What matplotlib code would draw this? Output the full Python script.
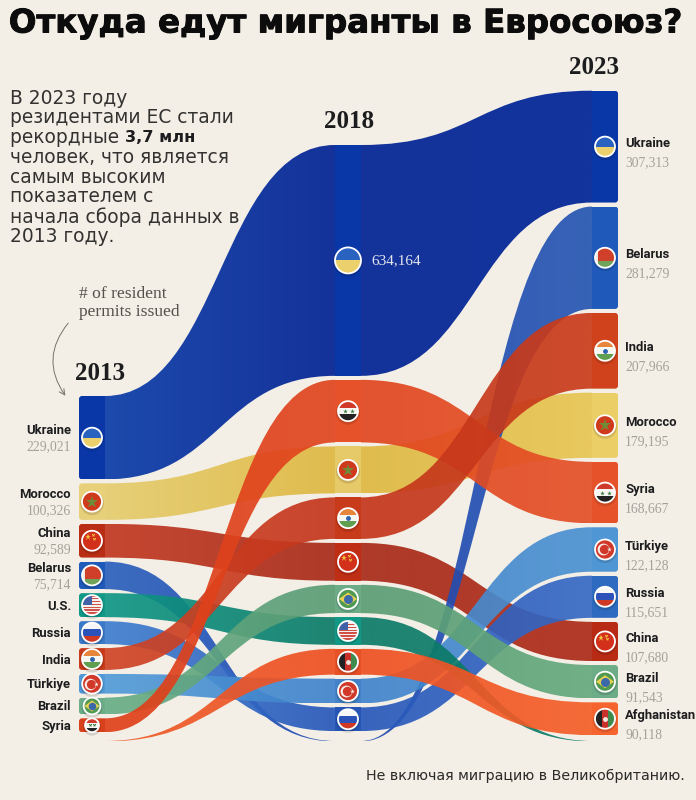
import numpy as np
import matplotlib
matplotlib.use('Agg')
import matplotlib.pyplot as plt
from matplotlib.colors import to_rgb
from matplotlib.patches import Circle, FancyBboxPatch, PathPatch, Polygon, Rectangle
from matplotlib.path import Path
import matplotlib.patheffects as pe

# values, 2018 and the unlabelled 2013 ones are estimates
countries_2013 = ['Ukraine', 'Morocco', 'China', 'Belarus', 'U.S.', 'Russia', 'India', 'Türkiye', 'Brazil', 'Syria', 'Afghanistan']
values_2013 = [229021, 100326, 92589, 75714, 66000, 63000, 60000, 54000, 46000, 38000, 1200]
countries_2018 = ['Ukraine', 'Syria', 'Morocco', 'India', 'China', 'Brazil', 'U.S.', 'Afghanistan', 'Türkiye', 'Russia', 'Belarus']
values_2018 = [634164, 172000, 129000, 114000, 104000, 78000, 76000, 71000, 68000, 65000, 1200]
countries_2023 = ['Ukraine', 'Belarus', 'India', 'Morocco', 'Syria', 'Türkiye', 'Russia', 'China', 'Brazil', 'Afghanistan', 'U.S.']
values_2023 = [307313, 281279, 207966, 179195, 168667, 122128, 115651, 107680, 91543, 90118, 1200]

# band colours at 2013, 2018, 2023
band_colors = {
    'Ukraine': ['#1d4aac', '#14329a', '#12349c'],
    'Morocco': ['#e6cf78', '#e0bc4e', '#e8c95f'],
    'China': ['#c23820', '#a82a18', '#ae2a18'],
    'Belarus': ['#2a60bc', '#2049b2', '#2656b2'],
    'U.S.': ['#0f9686', '#0c7b68', '#0c7b68'],
    'Russia': ['#3f7ecf', '#2858ba', '#3669c4'],
    'India': ['#d04526', '#c4361c', '#ca3c1a'],
    'Türkiye': ['#529bd8', '#4083cc', '#4b91d2'],
    'Brazil': ['#68ae86', '#5a9c74', '#65aa7e'],
    'Syria': ['#df4019', '#e1451f', '#e45026'],
    'Afghanistan': ['#ee5c2a', '#ee5022', '#f55f28'],
}
# column colours at 2013, 2018, 2023
col_colors = {
    'Ukraine': ['#0a37a8', '#0a37a8', '#0a37a8'],
    'Morocco': ['#e8d07a', '#e6c968', '#ecce66'],
    'China': ['#b92d14', '#bf2d14', '#b82a14'],
    'Belarus': ['#1f5abb', '#1f5abb', '#1f5abb'],
    'U.S.': ['#119988', '#119988', '#119988'],
    'Russia': ['#3a78c8', '#2555b5', '#2e6bc0'],
    'India': ['#c73a1a', '#c73a1a', '#d0421c'],
    'Türkiye': ['#5098d6', '#4382c8', '#4f96d4'],
    'Brazil': ['#6cad88', '#6cad88', '#6cad88'],
    'Syria': ['#d8401c', '#e6522a', '#e6522a'],
    'Afghanistan': ['#ef6030', '#e85026', '#f5632e'],
}

# drawing order of the bands, bottom first
order_left = ['Ukraine', 'Morocco', 'Belarus', 'Russia', 'Türkiye', 'China', 'U.S.', 'India', 'Brazil', 'Afghanistan', 'Syria']
order_right = ['Morocco', 'Ukraine', 'China', 'Belarus', 'Türkiye', 'Russia', 'U.S.', 'Syria', 'India', 'Brazil', 'Afghanistan']
opaque = ['Ukraine', 'Morocco']

title = 'Откуда едут мигранты в Евросоюз?'
intro_lines = ['В 2023 году', 'резидентами ЕС стали', 'рекордные ', 'человек, что является', 'самым высоким',
               'показателем с', 'начала сбора данных в', '2013 году.']
footer = 'Не включая миграцию в Великобританию.'

BG = '#f3efe6'
SCALE = 0.364 / 1000
GAP = 4
SLIVER_Y = 741
COL_W = 26
COL_X = [79, 335, 592]
TOPS = [396, 145, 90.7]

NARROW = ['Roboto', 'DejaVu Sans']
SERIF = ['Liberation Serif', 'DejaVu Serif']

plt.rcParams['font.family'] = ['DejaVu Sans']
fig = plt.figure(figsize=(6.96, 8), dpi=100, facecolor=BG)
ax = fig.add_axes([0, 0, 1, 1])


def layout(names, values, top):
    pos = {}
    y = top
    for n, v in zip(names, values):
        h = v * SCALE
        if v < 5000:
            pos[n] = (SLIVER_Y, SLIVER_Y + h)
        else:
            pos[n] = (y, y + h)
            y += h + GAP
    return pos


def band(x0, x1, a, b, c0, c1, alpha, z):
    xm = (x0 + x1) / 2
    verts = [(x0, a[0]), (xm, a[0]), (xm, b[0]), (x1, b[0]),
             (x1, b[1]), (xm, b[1]), (xm, a[1]), (x0, a[1]), (x0, a[0])]
    codes = [Path.MOVETO, Path.CURVE4, Path.CURVE4, Path.CURVE4, Path.LINETO,
             Path.CURVE4, Path.CURVE4, Path.CURVE4, Path.CLOSEPOLY]
    patch = PathPatch(Path(verts, codes), fc='none', ec='none', transform=ax.transData)
    ax.add_patch(patch)
    ramp = np.linspace(0, 1, 64)[:, None]
    rgb = (1 - ramp) * np.array(to_rgb(c0)) + ramp * np.array(to_rgb(c1))
    img = np.dstack([rgb[None, :, :], np.full((1, 64, 1), alpha)])
    ys = [a[0], a[1], b[0], b[1]]
    im = ax.imshow(img, extent=(x0, x1, max(ys), min(ys)), aspect='auto', zorder=z, interpolation='bilinear')
    im.set_clip_path(patch)


def flag(cx, cy, r, name):
    z = 30
    ax.add_patch(Circle((cx, cy + 1.5), r + 2, fc='black', alpha=0.12, ec='none', zorder=z - 1))
    clip = Circle((cx, cy), r, transform=ax.transData)

    def box(x0, y0, x1, y1, c):
        p = Rectangle((cx + x0 * r, cy + y0 * r), (x1 - x0) * r, (y1 - y0) * r, fc=c, ec='none', zorder=z)
        ax.add_patch(p)
        p.set_clip_path(clip)
        return p

    def mark(x, y, m, s, c):
        ln, = ax.plot([cx + x * r], [cy + y * r], m, ms=s, color=c, mew=0, zorder=z + 1)
        ln.set_clip_path(clip)

    if name == 'Ukraine':
        box(-1, -1, 1, 0, '#2a62bf')
        box(-1, 0, 1, 1, '#ecd06c')
    elif name == 'Morocco':
        box(-1, -1, 1, 1, '#cf3a1c')
        mark(0, 0, '*', r * 0.95, '#6e8c3a')
    elif name == 'China':
        box(-1, -1, 1, 1, '#d2301a')
        mark(-0.4, -0.35, '*', r * 0.5, '#f0c040')
        mark(0.05, -0.55, '*', r * 0.25, '#f0c040')
        mark(0.2, -0.2, '*', r * 0.25, '#f0c040')
    elif name == 'Belarus':
        box(-1, -1, 1, 0.35, '#cf3f2a')
        box(-1, 0.35, 1, 1, '#6fa35a')
        box(-1, -1, -0.7, 1, '#f0e8e0')
    elif name == 'U.S.':
        for i in range(7):
            box(-1, -1 + i * 2 / 7, 1, -1 + (i + 0.5) * 2 / 7, '#d05048')
        for i in range(7):
            box(-1, -1 + (i + 0.5) * 2 / 7, 1, -1 + (i + 1) * 2 / 7, '#f4f0ee')
        box(-1, -1, -0.05, -0.05, '#4060a8')
    elif name == 'Russia':
        box(-1, -1, 1, -0.33, '#f6f6f6')
        box(-1, -0.33, 1, 0.33, '#2a52b8')
        box(-1, 0.33, 1, 1, '#d03a24')
    elif name == 'India':
        box(-1, -1, 1, -0.33, '#e8853c')
        box(-1, -0.33, 1, 0.33, '#f6f6f2')
        box(-1, 0.33, 1, 1, '#5f9f4f')
        mark(0, 0, 'o', r * 0.35, '#2f62b0')
    elif name == 'Türkiye':
        box(-1, -1, 1, 1, '#d2382a')
        mark(-0.25, 0, 'o', r * 0.85, '#f6efe8')
        mark(-0.1, 0, 'o', r * 0.68, '#d2382a')
        mark(0.4, 0, '*', r * 0.35, '#f6efe8')
    elif name == 'Brazil':
        box(-1, -1, 1, 1, '#4f9a50')
        p = Polygon([(cx - 0.9 * r, cy), (cx, cy - 0.65 * r), (cx + 0.9 * r, cy), (cx, cy + 0.65 * r)],
                    fc='#e8d050', ec='none', zorder=z + 0.5)
        ax.add_patch(p)
        mark(0, 0, 'o', r * 0.65, '#3a68a8')
    elif name == 'Syria':
        box(-1, -1, 1, -0.33, '#d03a2a')
        box(-1, -0.33, 1, 0.33, '#f6f6f2')
        box(-1, 0.33, 1, 1, '#222222')
        mark(-0.35, 0, '*', r * 0.35, '#3a7a40')
        mark(0.35, 0, '*', r * 0.35, '#3a7a40')
    elif name == 'Afghanistan':
        box(-1, -1, -0.33, 1, '#222222')
        box(-0.33, -1, 0.33, 1, '#c8322a')
        box(0.33, -1, 1, 1, '#3f8a4c')
        mark(0, 0, 'o', r * 0.35, '#f0e8e0')
    ax.add_patch(Circle((cx, cy), r, fc='none', ec='white', lw=1.3, zorder=z + 2))


pos = [layout(countries_2013, values_2013, TOPS[0]),
       layout(countries_2018, values_2018, TOPS[1]),
       layout(countries_2023, values_2023, TOPS[2])]

# bands
for seg, order in enumerate([order_left, order_right]):
    for i, n in enumerate(order):
        alpha = 1 if n in opaque else 0.92
        band(COL_X[seg] + COL_W, COL_X[seg + 1], pos[seg][n], pos[seg + 1][n],
             band_colors[n][seg], band_colors[n][seg + 1], alpha, 5 + i * 0.5)

# year columns and flags
for k, p in enumerate(pos):
    for n, (y0, y1) in p.items():
        if y1 - y0 < 5:
            continue
        rect = Rectangle((COL_X[k], y0), COL_W, y1 - y0, fc=col_colors[n][k], ec='none', zorder=20)
        ax.add_patch(rect)
        if k != 1:
            off = 0 if k == 0 else -10
            rounded = FancyBboxPatch((COL_X[k] + off, y0), COL_W + 10, y1 - y0,
                                     boxstyle='round,pad=0,rounding_size=3', transform=ax.transData)
            rect.set_clip_path(rounded)
        r = 13 if y1 - y0 > 200 and k == 1 else min(10, (y1 - y0) / 2)
        flag(COL_X[k] + COL_W / 2, (y0 + y1) / 2, r, n)

ax.set_xlim(0, 696)
ax.set_ylim(800, 0)
ax.axis('off')

# labels
show_value_2013 = ['Ukraine', 'Morocco', 'China', 'Belarus']
for n, v in zip(countries_2013[:-1], values_2013):
    mid = sum(pos[0][n]) / 2
    if n in show_value_2013:
        ax.text(71, mid - 7, n, ha='right', va='center', family=NARROW, weight='bold', fontsize=9.4, color='#1d1d1f')
        ax.text(71, mid + 9, f'{v:,}', ha='right', va='center', family=SERIF, fontsize=9.8, color='#a5a19a')
    else:
        ax.text(71, mid + 1, n, ha='right', va='center', family=NARROW, weight='bold', fontsize=9.4, color='#1d1d1f')
for n, v in zip(countries_2023[:-1], values_2023):
    mid = sum(pos[2][n]) / 2
    ax.text(625, mid - 3, n, ha='left', va='center', family=NARROW, weight='bold', fontsize=9.4, color='#1d1d1f')
    ax.text(625, mid + 16, f'{v:,}', ha='left', va='center', family=SERIF, fontsize=9.8, color='#a5a19a')
ax.text(371, sum(pos[1]['Ukraine']) / 2, f'{values_2018[0]:,}', ha='left', va='center', family=SERIF,
        fontsize=11, color='#e4e6ee', zorder=31)

# year headers
for year, x, y in [('2013', 100.5, 373), ('2018', 349, 121), ('2023', 593.5, 68)]:
    ax.text(x, y, year, ha='center', va='center', family=SERIF, weight='bold', fontsize=18, color='#1d1d1f')

# title
ax.text(346, 24, title, ha='center', va='center', weight='bold', fontsize=23.4, color='#0c0c0c',
        path_effects=[pe.withStroke(linewidth=0.7, foreground='#0c0c0c')])

# intro text
ytxt = 98
for line in intro_lines:
    t = ax.text(10, ytxt, line, ha='left', va='center', fontsize=13.4, color='#333230')
    if line == 'рекордные ':
        x1 = t.get_window_extent(fig.canvas.get_renderer()).x1
        ax.text(x1, ytxt, '3,7 млн', ha='left', va='center', fontsize=11.6, weight='bold', color='#1d1d1f')
    ytxt += 19.8

ax.text(79, 294, '# of resident', ha='left', va='center', family=SERIF, fontsize=12.6, color='#55524d')
ax.text(79, 312, 'permits issued', ha='left', va='center', family=SERIF, fontsize=12.6, color='#55524d')
ax.annotate('', xy=(67, 398), xytext=(70, 321),
            arrowprops=dict(arrowstyle='->', connectionstyle='arc3,rad=0.4', color='#77736c', lw=0.7))

ax.text(685, 776, footer, ha='right', va='center', fontsize=10.3, color='#2b2a28')

fig.savefig('out.png', dpi=100, facecolor=BG)
